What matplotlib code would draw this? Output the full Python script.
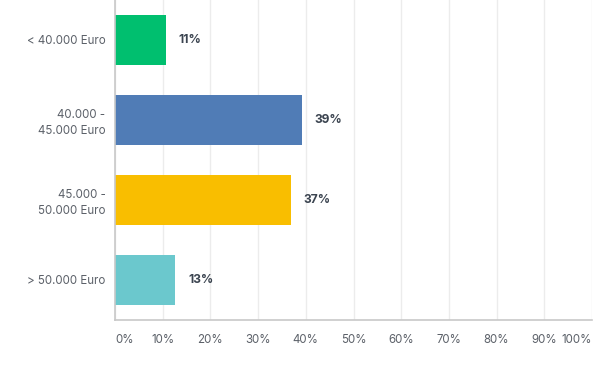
import matplotlib.pyplot as plt

categories = ["< 40.000 Euro", "40.000 -\n45.000 Euro", "45.000 -\n50.000 Euro", "> 50.000 Euro"]
values = [10.7, 39.1, 36.9, 12.6]
colors = ["#00bf6f", "#507cb6", "#f9be00", "#6bc8cd"]
xticks = [0, 10, 20, 30, 40, 50, 60, 70, 80, 90, 100]

plt.rcParams['font.family'] = ['Inter', 'DejaVu Sans']

fig = plt.figure(figsize=(5.94, 3.70), dpi=100)
ax = fig.add_axes([115 / 594, 1 - 320 / 370, 477 / 594, 320 / 370])

y = list(range(len(categories)))
ax.barh(y, values, height=0.625, color=colors, zorder=2)
for yi, v in zip(y, values):
    ax.text(v + 2.7, yi, f"{v:.0f}%", va='center', ha='left',
            fontsize=8.7, fontweight='bold', color='#3b4450')

ax.set_ylim(3.5, -0.5)
ax.set_xlim(0, 100)
ax.set_yticks(y)
ax.set_yticklabels(categories, fontsize=8.3, color='#5c6169', linespacing=1.4)
ax.set_xticks(xticks)
ax.set_xticklabels([f"{t}%" for t in xticks], fontsize=8.3, color='#5c6169')
labels = ax.get_xticklabels()
labels[0].set_ha('left')
labels[-1].set_ha('right')
ax.tick_params(axis='both', length=0)
ax.tick_params(axis='y', pad=7)
ax.tick_params(axis='x', pad=10)
ax.xaxis.grid(True, color='#ececec', linewidth=1, zorder=0)
for s in ['top', 'right']:
    ax.spines[s].set_visible(False)
for s in ['left', 'bottom']:
    ax.spines[s].set_color('#c8c8c8')
    ax.spines[s].set_linewidth(1.2)

fig.savefig('out.png', dpi=100)
